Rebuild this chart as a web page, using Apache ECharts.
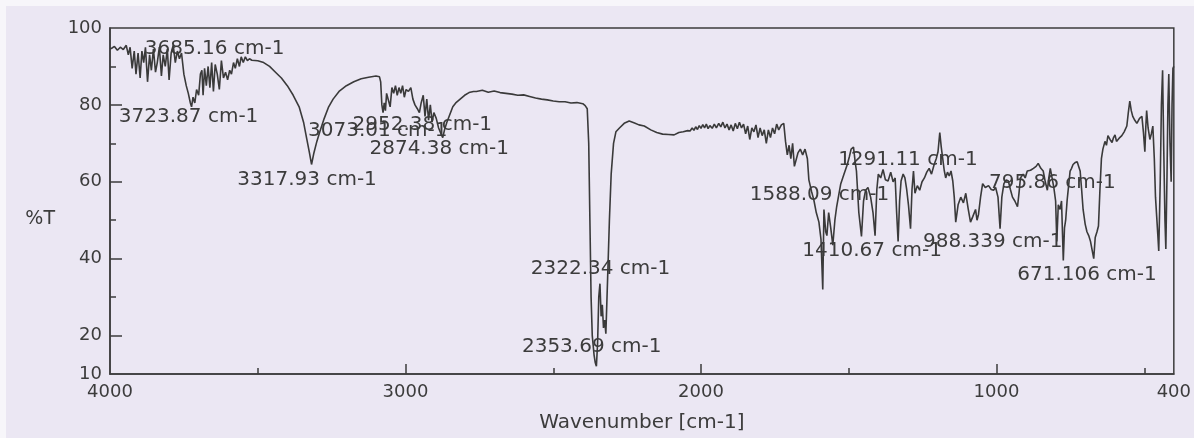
<!DOCTYPE html>
<html>
<head>
<meta charset="utf-8">
<script src="https://cdn.jsdelivr.net/npm/echarts@6/dist/echarts.min.js"></script>
<style>
  html, body { margin: 0; padding: 0; background: #ffffff; }
  #chart { width: 1194px; height: 438px; }
</style>
</head>
<body>
<div id="chart"></div>
<script>
// IR transmittance spectrum, [wavenumber cm-1, %T], split by band region.
const ohRegion = [
  [4000,94.5],[3993,94.8],[3985,95.2],[3975,94.2],[3965,95.0],[3955,94.4],[3945,95.5],[3938,93.0],
  [3932,95.0],[3925,89.5],[3918,94.0],[3912,88.0],[3905,93.5],[3898,87.0],[3892,94.0],[3886,91.0],
  [3880,95.0],[3873,86.0],[3866,93.0],[3860,89.0],[3853,94.5],[3846,88.5],[3840,91.0],[3833,95.0],
  [3826,87.5],[3820,93.0],[3813,90.0],[3806,94.5],[3800,86.5],[3793,93.5],[3786,95.5],[3779,91.0],
  [3772,94.0],[3765,92.0],[3758,93.5],[3750,88.0],[3742,85.0],[3735,83.0],[3728,80.5],[3724,79.5],
  [3719,82.0],[3713,80.5],[3707,84.0],[3700,82.5],[3694,88.0],[3689,89.0],[3685,82.5],[3680,89.5],
  [3674,85.0],[3668,90.0],[3662,84.5],[3656,91.0],[3650,83.5],[3644,90.5],[3637,88.0],[3630,84.0],
  [3623,91.5],[3616,87.0],[3609,88.5],[3602,86.5],[3595,89.0],[3589,88.0],[3582,91.0],[3576,89.5],
  [3569,92.0],[3562,90.0],[3556,92.5],[3549,91.0],[3542,92.5],[3535,91.5],[3528,92.0],[3520,91.6],
  [3500,91.5],[3480,91.0],[3460,90.0],[3440,88.5],[3420,87.0],[3400,85.0],[3380,82.5],[3360,79.5],
  [3345,75.5],[3335,71.5],[3325,67.5],[3318,64.5],[3310,67.5],[3300,70.5],[3290,73.0],[3275,76.5],
  [3260,79.5],[3245,81.5],[3225,83.5],[3200,85.0],[3175,86.0],[3150,86.8],[3125,87.2],[3100,87.5],
  [3088,87.3]
];

const chRegion = [
  [3084,86.0],[3080,80.0],[3076,78.0],[3072,80.5],[3068,78.5],[3064,83.0],[3060,82.5],[3052,79.5],
  [3046,84.5],[3040,83.0],[3034,85.0],[3028,82.5],[3022,84.5],[3016,83.0],[3010,85.0],[3004,82.0],
  [2998,84.0],[2990,83.5],[2982,84.5],[2975,81.5],[2968,80.0],[2960,79.0],[2953,78.0],[2947,80.5],
  [2940,82.5],[2934,77.0],[2928,81.5],[2922,76.0],[2916,80.0],[2910,75.5],[2904,78.0],[2896,76.5],
  [2888,74.0],[2880,72.5],[2874,71.5],[2868,73.5],[2860,75.5],[2850,77.5],[2840,79.5],[2830,80.5],
  [2815,81.5],[2800,82.5],[2785,83.2],[2770,83.5],[2760,83.5],[2740,83.8],[2720,83.3],[2700,83.6],
  [2680,83.2],[2660,83.0],[2640,82.8],[2620,82.5],[2600,82.6],[2580,82.2],[2560,81.8],[2540,81.5],
  [2520,81.3],[2500,81.0],[2480,80.8],[2460,80.8],[2440,80.5],[2420,80.6],[2400,80.3]
];

const co2Region = [
  [2392,79.8],[2385,79.0],[2380,70.0],[2376,50.0],[2372,30.0],[2368,20.0],[2362,15.0],[2358,13.0],
  [2354,12.0],[2350,18.0],[2346,30.0],[2342,33.5],[2338,25.0],[2334,28.0],[2330,22.0],[2326,24.0],
  [2322,20.5],[2316,35.0],[2310,50.0],[2304,62.0],[2296,70.0],[2288,73.0],[2276,74.0],[2260,75.2],
  [2243,75.8],[2225,75.3],[2210,74.8],[2192,74.5],[2170,73.5],[2150,72.8],[2130,72.4],[2110,72.3],
  [2091,72.2],[2075,72.8],[2060,73.0],[2045,73.3],[2037,73.2],[2030,74.0],[2024,73.4],[2018,74.3],
  [2012,73.6],[2006,74.6]
];

const fingerprintRegion = [
  [2000,73.9],[1994,74.9],[1988,74.0],[1982,75.0],[1976,73.8],[1970,74.6],[1962,73.9],[1955,75.0],
  [1948,74.0],[1940,75.2],[1933,74.3],[1926,75.5],[1919,74.0],[1912,75.0],[1905,73.5],[1898,74.8],
  [1891,73.2],[1884,75.2],[1877,73.8],[1870,75.5],[1863,74.0],[1856,75.0],[1849,72.5],[1842,74.5],
  [1835,71.0],[1828,74.0],[1821,73.0],[1814,74.8],[1807,71.5],[1800,74.0],[1793,72.0],[1786,73.5],
  [1779,70.0],[1772,73.5],[1765,71.5],[1758,74.0],[1751,72.5],[1744,75.0],[1737,73.5],[1728,74.8],
  [1720,75.2],[1714,70.5],[1708,67.0],[1702,69.5],[1696,66.0],[1690,70.0],[1684,64.0],[1678,63.5],
  [1672,67.5],[1664,68.5],[1656,67.0],[1648,68.5],[1640,66.0],[1635,60.5],[1626,57.5],[1618,55.2],
  [1610,52.0],[1601,49.5],[1594,45.0],[1588,32.0],[1584,52.8],[1578,47.0],[1574,46.0],[1568,52.0],
  [1561,48.0],[1554,43.5],[1547,50.0],[1541,53.5],[1534,56.5],[1527,59.5],[1516,62.0],[1505,64.5],
  [1498,66.5],[1492,68.5],[1484,69.0],[1478,65.0],[1474,62.8],[1466,52.0],[1457,45.8],[1450,55.0],
  [1443,57.8],[1435,58.5],[1426,56.0],[1418,52.0],[1411,46.0],[1405,58.0],[1400,62.0],[1392,61.0],
  [1384,63.2],[1376,60.5],[1367,60.2],[1358,62.5],[1350,60.0],[1343,61.0],[1338,52.0],[1333,44.5],
  [1328,55.0],[1323,60.2],[1316,62.0],[1310,61.0],[1304,58.0],[1298,54.0],[1291,47.8],[1286,58.0],
  [1281,62.8],[1276,57.0],[1268,59.0],[1260,57.8],[1252,60.0],[1244,61.0],[1236,62.5],[1228,63.5],
  [1220,62.0],[1211,64.5],[1204,66.0],[1198,67.8],[1192,72.8],[1187,69.0],[1182,66.0],[1177,63.0],
  [1172,61.0],[1166,62.5],[1160,61.5],[1154,62.8],[1148,60.2],[1143,56.0],[1138,49.5],[1130,54.0],
  [1121,56.0],[1112,54.5],[1104,57.0],[1096,53.0],[1088,49.5],[1080,51.0],[1071,52.8],[1066,50.0],
  [1061,51.5],[1054,56.0],[1047,59.5],[1038,58.5],[1027,59.0],[1018,58.0],[1010,57.8],[1003,58.5],
  [995,56.0],[988,47.8],[982,56.0],[975,59.5],[967,60.5],[960,60.2],[953,58.0],[946,56.0],
  [938,55.0],[929,53.5],[924,57.0],[919,61.0],[910,62.0],[903,61.0],[896,62.8],[885,63.0],
  [875,63.5],[866,64.0],[859,64.8],[850,63.5],[842,62.8],[835,60.0],[828,57.8],[823,61.0],
  [818,63.5],[812,61.0],[806,58.5],[800,55.0],[796,44.5],[791,54.0],[785,52.8],[780,55.0],
  [774,39.5],[770,48.0],[766,50.0],[761,55.2],[756,59.0],[751,62.8],[746,63.5],[741,64.5],
  [734,65.0],[727,65.2],[722,64.0],[717,62.8],[712,58.0],[707,52.8],[700,49.0],[694,47.0],
  [688,46.0],[682,44.5],[677,45.0],[671,40.0],[666,45.5],[660,47.0],[655,48.5],[650,58.0],
  [645,66.0],[640,68.5],[633,70.5],[628,69.5],[623,72.0],[616,71.0],[609,70.2],[604,71.5],
  [599,72.2],[594,70.5],[589,70.0],[583,71.5],[576,72.0],[568,73.0],[559,74.5],[554,78.0],
  [549,81.0],[544,78.5],[539,77.0],[532,76.0],[525,75.2],[516,76.5],[508,77.0],[503,73.0],
  [498,67.8],[495,74.0],[492,78.5],[487,74.0],[481,71.0],[476,72.5],[471,74.5],[466,66.0],
  [462,56.0],[458,51.0],[454,46.0],[451,42.0],[446,60.0],[442,80.0],[438,89.0],[434,68.0],
  [430,50.0],[427,42.5],[423,62.0],[420,80.0],[417,88.0],[413,70.0],[409,60.0],[406,80.0],
  [403,89.5],[400,90.0]
];

// Picked peak positions (cm-1), printed as "<value> cm-1".
const peakWavenumbers = [3685.16, 3723.87, 3317.93, 3073.01, 2952.38, 2874.38, 2322.34,
  2353.69, 1588.09, 1291.11, 1410.67, 988.339, 795.86, 671.106];

// Axis ticks and labels.
const xLabelValues = [4000, 3000, 2000, 1000, 400];
const xMajorTicks = [3000, 2000, 1000];
const xMinorTicks = [3500, 2500, 1500, 500];
const yLabelValues = [10, 20, 40, 60, 80, 100];
const yMajorTicks = [20, 40, 60, 80];
const yMinorTicks = [30, 50, 70, 90];

// Where each peak annotation is centred, in [wavenumber, %T] plot coordinates.
const peakLabelAnchors = [
  [3646, 94.5], [3734, 77.0], [3333, 60.5], [3094, 73.3], [2943, 74.8], [2886, 68.5],
  [2340, 37.3], [2370, 17.0], [1599, 56.5], [1300, 65.8], [1421, 42.0], [1013, 44.5],
  [811, 59.8], [694, 35.8]
];

const spectrum = [].concat(ohRegion, chRegion, co2Region, fingerprintRegion);

const ink = '#3c3c3c';
const font = 'DejaVu Sans';

const chart = echarts.init(document.getElementById('chart'), null, { renderer: 'canvas' });
chart.setOption({
  animation: false,
  backgroundColor: '#ebe7f3',
  graphic: [
    { type: 'rect', left: 0, top: 0, shape: { width: 1194, height: 6 }, style: { fill: '#f7f6fa' }, z: -10 },
    { type: 'rect', left: 0, top: 0, shape: { width: 6, height: 438 }, style: { fill: '#f7f6fa' }, z: -10 }
  ],
  grid: {
    left: 110, right: 17, top: 28, bottom: 47,
    show: true, borderColor: ink, borderWidth: 1.5, backgroundColor: 'transparent'
  },
  xAxis: [
    {
      type: 'value', min: 400, max: 4000, inverse: true, position: 'bottom',
      axisLine: { show: true, lineStyle: { color: ink, width: 1.5 } },
      axisTick: { show: true, inside: true, length: 10, customValues: xMajorTicks, lineStyle: { color: ink, width: 1.5 } },
      axisLabel: {
        customValues: xLabelValues, formatter: v => String(v),
        color: ink, fontSize: 18, fontFamily: font, margin: 9
      },
      splitLine: { show: false },
      name: 'Wavenumber [cm-1]', nameLocation: 'middle', nameGap: 39,
      nameTextStyle: { color: ink, fontSize: 20, fontFamily: font }
    },
    {
      type: 'value', min: 400, max: 4000, inverse: true, position: 'bottom',
      axisLine: { show: false },
      axisTick: { show: true, inside: true, length: 6, customValues: xMinorTicks, lineStyle: { color: ink, width: 1.5 } },
      axisLabel: { show: false },
      splitLine: { show: false }
    }
  ],
  yAxis: [
    {
      type: 'value', min: 10, max: 100, position: 'left',
      axisLine: { show: true, lineStyle: { color: ink, width: 1.5 } },
      axisTick: { show: true, inside: true, length: 12, customValues: yMajorTicks, lineStyle: { color: ink, width: 1.5 } },
      axisLabel: {
        customValues: yLabelValues, formatter: v => String(v),
        color: ink, fontSize: 18, fontFamily: font, margin: 8, padding: [8, 0, 0, 0]
      },
      splitLine: { show: false },
      // blank first line drops the unit label below the axis midpoint
      name: '\n%T', nameLocation: 'middle', nameRotate: 0, nameGap: 55,
      nameTextStyle: { color: ink, fontSize: 19, fontFamily: font, lineHeight: 36 }
    },
    {
      type: 'value', min: 10, max: 100, position: 'left',
      axisLine: { show: false },
      axisTick: { show: true, inside: true, length: 6, customValues: yMinorTicks, lineStyle: { color: ink, width: 1.5 } },
      axisLabel: { show: false },
      splitLine: { show: false }
    }
  ],
  series: [
    {
      type: 'scatter', xAxisIndex: 0, yAxisIndex: 0, z: 1,
      symbolSize: 0, silent: true,
      itemStyle: { opacity: 1 },
      data: peakLabelAnchors,
      label: {
        show: true, position: 'inside', opacity: 1,
        formatter: p => peakWavenumbers[p.dataIndex] + ' cm-1',
        color: ink, fontSize: 20, fontFamily: font
      }
    },
    {
      type: 'line', xAxisIndex: 0, yAxisIndex: 0, z: 3,
      data: spectrum, showSymbol: false, smooth: false, sampling: null,
      lineStyle: { color: '#3a3a3a', width: 1.6 }
    }
  ]
});
</script>
</body>
</html>
